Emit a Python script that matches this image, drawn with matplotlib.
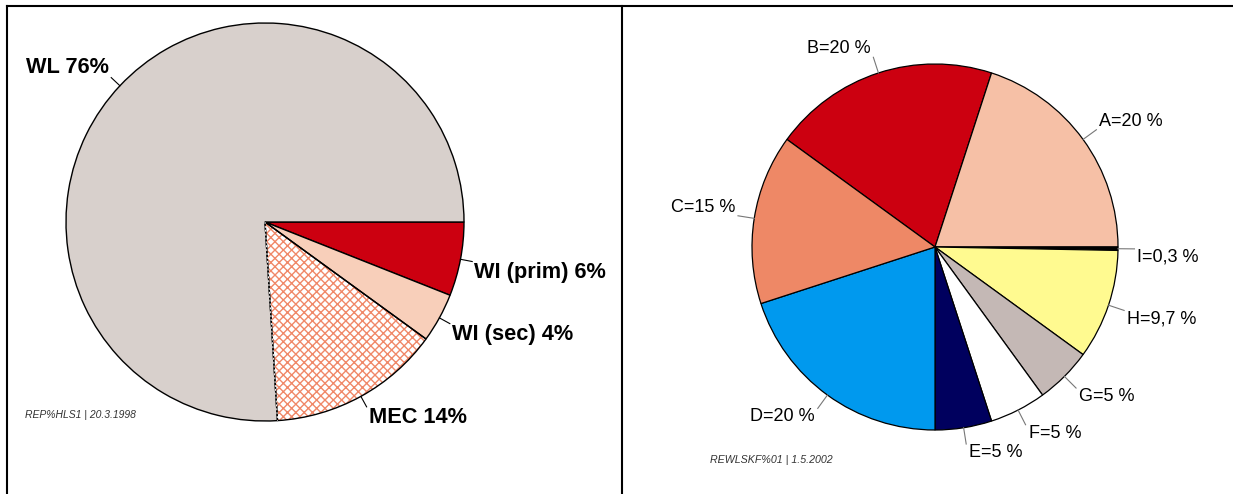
import numpy as np
import matplotlib
matplotlib.use('Agg')
import matplotlib.pyplot as plt
from matplotlib.patches import Wedge

plt.rcParams['font.family'] = ['Liberation Sans', 'DejaVu Sans']
plt.rcParams['hatch.linewidth'] = 1.0

# 左のグラフ（時計回り、3時方向から）
left_names = ['WI (prim)', 'WI (sec)', 'MEC', 'WL']
left_values = [6, 4, 14, 76]
left_colors = ['#cc0010', '#f8cfba', 'white', '#d8d0cc']
left_note = 'REP%HLS1 | 20.3.1998'

# 右のグラフ
right_names = ['B', 'A', 'I', 'H', 'G', 'F', 'E', 'D', 'C']
right_values = [20, 20, 0.3, 9.7, 5, 5, 5, 20, 15]
right_colors = ['#cc0010', '#f6c0a6', '#000000', '#fffa90', '#c4b8b5',
                '#ffffff', '#00005e', '#0099ee', '#ee8866']
right_note = 'REWLSKF%01 | 1.5.2002'

W, H = 1233, 494
fig = plt.figure(figsize=(W / 100, H / 100), dpi=100)
ax = fig.add_axes([0, 0, 1, 1])


def add_labels(ax, wedges, texts, cx, cy, r, k, pad, line_color, **kw):
    for w, t in zip(wedges, texts):
        ang = np.deg2rad((w.theta1 + w.theta2) / 2)
        c, s = np.cos(ang), np.sin(ang)
        x0, y0 = cx + r * c, cy + r * s
        x1, y1 = cx + k * r * c, cy + k * r * s
        ax.plot([x0, x1], [y0, y1], color=line_color, lw=0.8, zorder=5)
        ha = 'left' if c > 0 else 'right'
        va = 'top' if s < 0 else 'bottom'
        ax.text(x1 + (pad if c > 0 else -pad), y1, t, ha=ha, va=va, **kw)


# --- 左 ---
lcx, lcy, lr = 265, H - 222, 199
lw_, _ = ax.pie(left_values, colors=left_colors, startangle=0, counterclock=False,
                center=(lcx, lcy), radius=lr,
                wedgeprops=dict(edgecolor='black', linewidth=1.0))
mec = lw_[2]
mec.set_hatch('xxxx')
mec.set_edgecolor('#f08868')
mec.set_linewidth(0)
mec.set_zorder(0.5)
# 外周の線（MEC）
ax.add_patch(Wedge((lcx, lcy), lr, mec.theta1, mec.theta2, fill=False,
                   edgecolor='black', linewidth=1.0, zorder=3))
# WL との境界は破線
a = np.deg2rad(mec.theta1)
ax.plot([lcx, lcx + lr * np.cos(a)], [lcy, lcy + lr * np.sin(a)],
        color='white', lw=0.7, linestyle=(0, (2, 2)), zorder=4)
left_texts = [f'{n} {v}%' for n, v in zip(left_names, left_values)]
add_labels(ax, lw_, left_texts, lcx, lcy, lr, 1.06, 2, 'black',
           fontsize=15.7, fontweight='bold')
ax.text(25, H - 415, left_note, fontsize=7.5, style='italic', color='#333333',
        ha='left', va='center')

# --- 右 ---
rcx, rcy, rr = 935, H - 247, 183
rw, _ = ax.pie(right_values, colors=right_colors, startangle=144, counterclock=False,
               center=(rcx, rcy), radius=rr,
               wedgeprops=dict(edgecolor='black', linewidth=0.9))
right_texts = [f'{n}=' + ('%g' % v).replace('.', ',') + ' %'
               for n, v in zip(right_names, right_values)]
add_labels(ax, rw, right_texts, rcx, rcy, rr, 1.09, 3, '#777777', fontsize=13)
ax.text(710, H - 460, right_note, fontsize=7.7, style='italic', color='#333333',
        ha='left', va='center')

# 枠線
ax.plot([7, W], [H - 6, H - 6], color='black', lw=1.5)
ax.plot([7, 7], [0, H - 6], color='black', lw=1.5)
ax.plot([622, 622], [0, H - 6], color='black', lw=1.5)

ax.set_xlim(0, W)
ax.set_ylim(0, H)
ax.set_aspect('auto')
ax.axis('off')

fig.savefig('out.png', dpi=100)
